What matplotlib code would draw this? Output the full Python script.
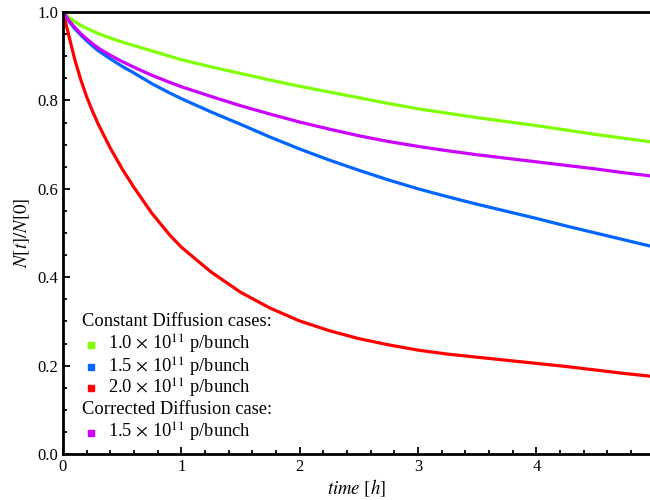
import matplotlib
matplotlib.use('Agg')
import matplotlib.pyplot as plt
from matplotlib.ticker import MultipleLocator

plt.rcParams['font.family'] = ['Liberation Serif', 'DejaVu Serif']
plt.rcParams['mathtext.fontset'] = 'stix'

# beam intensity N[t]/N[0]
time_h = [0, 0.05, 0.1, 0.15, 0.2, 0.25, 0.3, 0.4, 0.5, 0.6, 0.75, 0.9, 1,
          1.25, 1.5, 1.75, 2, 2.25, 2.5, 2.75, 3, 3.25, 3.5, 3.75, 4, 4.25, 4.5, 4.75, 5]
const_10 = [1.0, 0.988, 0.978, 0.970, 0.963, 0.957, 0.951, 0.941, 0.932, 0.924, 0.912, 0.900, 0.892,
            0.876, 0.861, 0.846, 0.832, 0.819, 0.806, 0.793, 0.781, 0.771, 0.761, 0.752, 0.743, 0.733, 0.723, 0.714, 0.705]
const_15 = [1.0, 0.979, 0.962, 0.948, 0.935, 0.923, 0.912, 0.894, 0.877, 0.862, 0.838, 0.817, 0.804,
            0.774, 0.746, 0.717, 0.690, 0.665, 0.642, 0.620, 0.600, 0.582, 0.565, 0.549, 0.533, 0.516, 0.500, 0.484, 0.468]
const_20 = [1.0, 0.946, 0.892, 0.847, 0.808, 0.775, 0.745, 0.692, 0.645, 0.603, 0.545, 0.496, 0.468,
            0.412, 0.366, 0.330, 0.301, 0.279, 0.261, 0.247, 0.235, 0.226, 0.219, 0.212, 0.205, 0.198, 0.190, 0.182, 0.175]
corr_15 = [1.0, 0.981, 0.965, 0.951, 0.939, 0.928, 0.918, 0.902, 0.888, 0.875, 0.857, 0.841, 0.831,
           0.809, 0.788, 0.769, 0.751, 0.735, 0.720, 0.707, 0.696, 0.686, 0.677, 0.669, 0.661, 0.653, 0.645, 0.636, 0.628]

series = [const_10, const_15, const_20, corr_15]
colors = ['#80ff00', '#0066ff', '#ff0000', '#cc00ff']
labels = [r'1.0 $\times$ 10$^{11}$ p/bunch', r'1.5 $\times$ 10$^{11}$ p/bunch',
          r'2.0 $\times$ 10$^{11}$ p/bunch', r'1.5 $\times$ 10$^{11}$ p/bunch']
headers = ['Constant Diffusion cases:', 'Corrected Diffusion case:']

fig = plt.figure(figsize=(6.5, 5), dpi=100)
ax = fig.add_axes([63 / 650, 46 / 500, 587 / 650, 442 / 500])

for y, c in zip(series, colors):
    ax.plot(time_h, y, color=c, lw=2.3, solid_joinstyle='round')

ax.set_xlim(0, 4.96)
ax.set_ylim(0, 1.0)
ax.xaxis.set_major_locator(MultipleLocator(1))
ax.xaxis.set_minor_locator(MultipleLocator(0.2))
ax.yaxis.set_major_locator(MultipleLocator(0.2))
ax.yaxis.set_minor_locator(MultipleLocator(0.05))
ax.tick_params(which='both', direction='in', width=1.3, labelsize=12, top=False, right=False)
ax.tick_params(which='major', length=5)
ax.tick_params(which='minor', length=3)
ax.set_yticks([0, 0.2, 0.4, 0.6, 0.8, 1.0])
ax.set_yticklabels(['0.0', '0.2', '0.4', '0.6', '0.8', '1.0'])
ax.set_xticks([0, 1, 2, 3, 4])
ax.set_xticklabels(['0', '1', '2', '3', '4'])
for s in ['left', 'bottom', 'top']:
    ax.spines[s].set_linewidth(2)
ax.spines['right'].set_visible(False)

ax.set_xlabel(r'$\mathit{time}\ [\mathit{h}]$', fontsize=13.5, labelpad=2)
ax.set_ylabel(r'$N[t]/N[0]$', fontsize=13.5, labelpad=4)

# hand-built legend: header rows without a marker
rows = [(headers[0], None), (labels[0], colors[0]), (labels[1], colors[1]),
        (labels[2], colors[2]), (headers[1], None), (labels[3], colors[3])]
ys = [0.299, 0.247, 0.197, 0.149, 0.100, 0.048]
for (txt, c), yy in zip(rows, ys):
    if c is None:
        ax.text(0.032, yy, txt, transform=ax.transAxes, fontsize=13.3, va='center', ha='left')
    else:
        ax.plot([0.047], [yy], marker='s', ms=5, color=c, transform=ax.transAxes, clip_on=False)
        ax.text(0.077, yy, txt, transform=ax.transAxes, fontsize=13.3, va='center', ha='left')

fig.savefig('out.png', dpi=100)
